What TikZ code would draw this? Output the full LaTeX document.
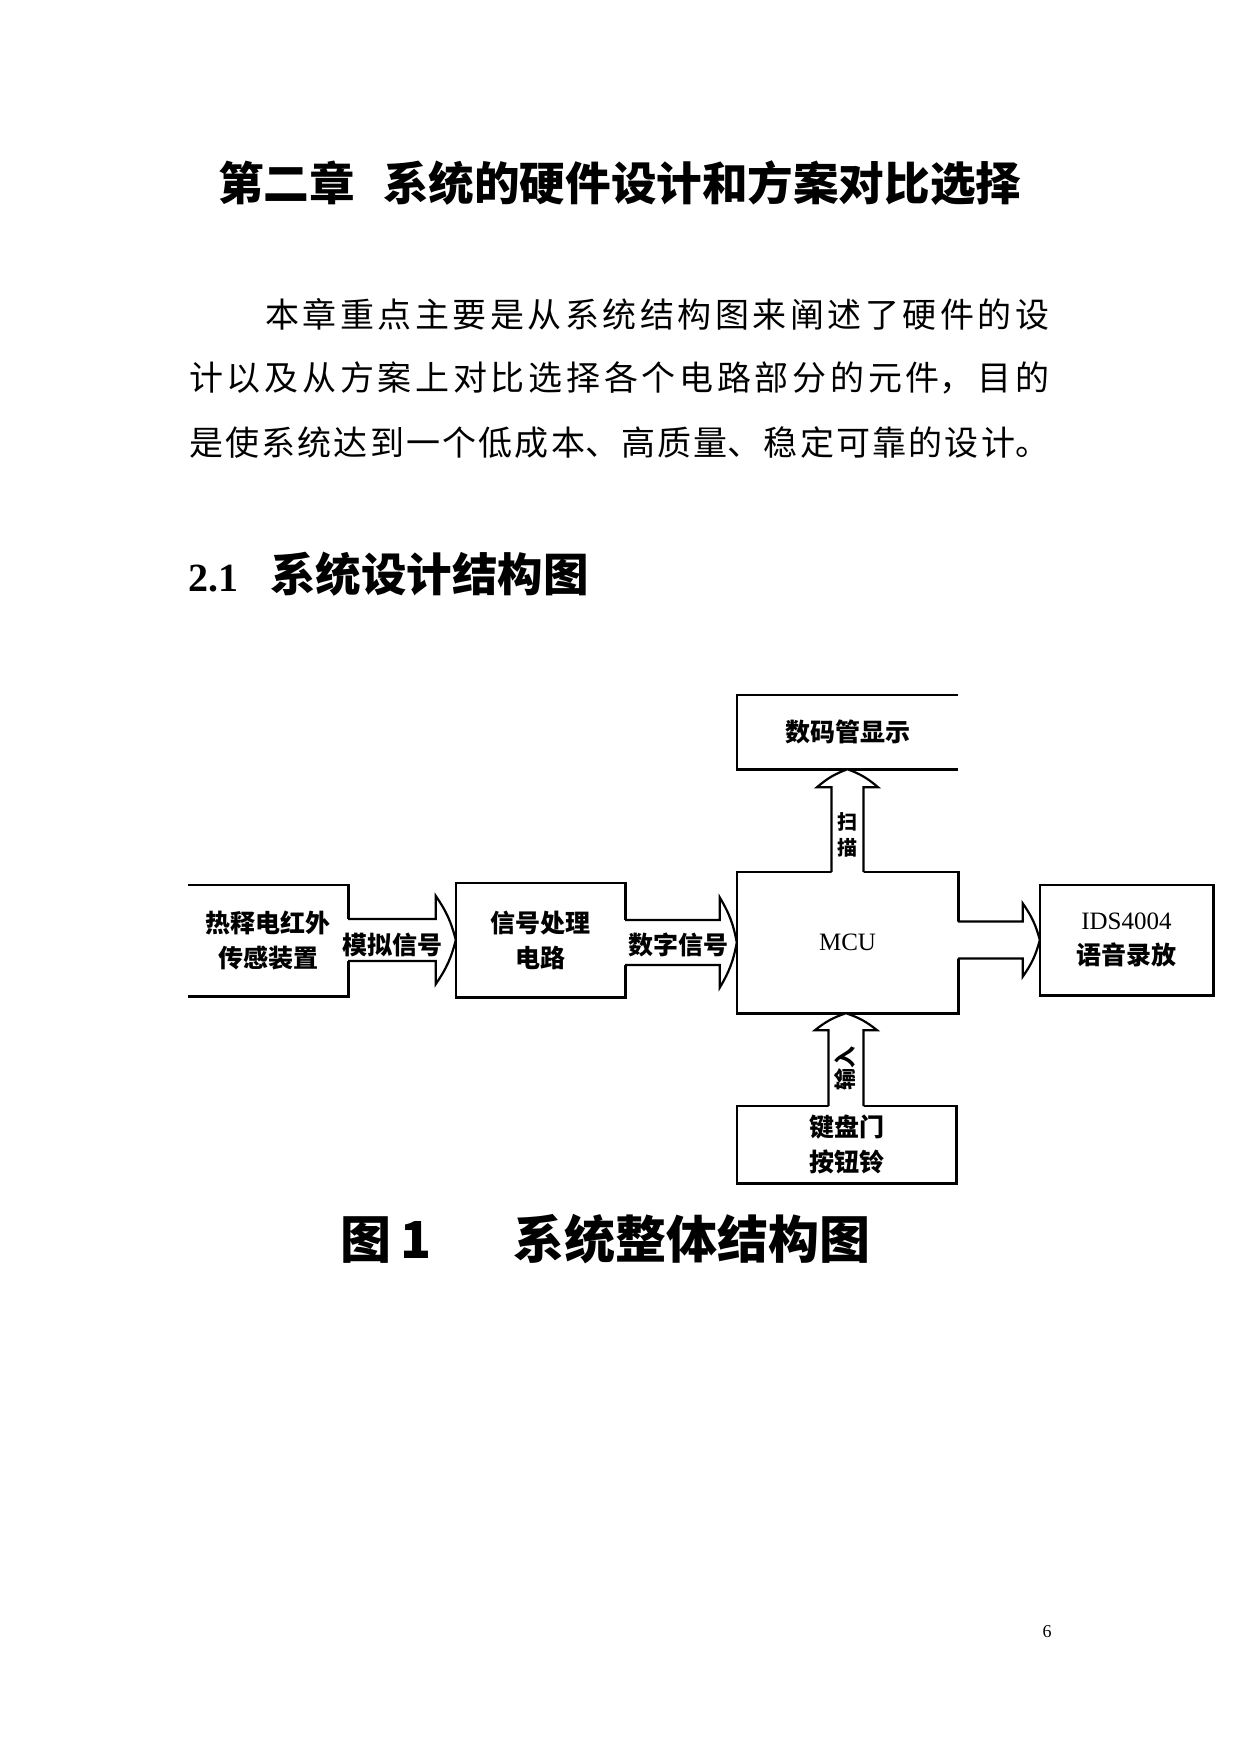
\documentclass[tikz,border=0pt]{standalone}
\usepackage{fontspec}
\setmainfont{Liberation Serif}
\newfontfamily\cjk{Noto Sans CJK SC}
\usetikzlibrary{calc}
\newcommand\dtext{\cjk\bfseries\fontsize{25}{35}\selectfont}
\newcommand\bodyset{\noindent\leftskip=0pt\rightskip=0pt\XeTeXlinebreaklocale "zh"\XeTeXlinebreakskip=0pt plus 30pt\parfillskip=0pt\relax}
\newcommand\harr[5]{%
  \fill[white] let \p1=#1, \p2=#2 in
    ({\x1-3pt},{\y2+#3pt}) -- ({\x2-#5pt},{\y2+#3pt}) -- ({\x2-#5pt},{\y2+#4pt}) -- (\x2,\y2)
    -- ({\x2-#5pt},{\y2-#4pt}) -- ({\x2-#5pt},{\y2-#3pt}) -- ({\x1-3pt},{\y2-#3pt}) -- cycle;
  \draw[arrline] let \p1=#1, \p2=#2 in
    (\x1,{\y2+#3pt}) -- ({\x2-#5pt},{\y2+#3pt}) -- ({\x2-#5pt},{\y2+#4pt}) to[bend left=10] (\x2,\y2)
    to[bend left=10] ({\x2-#5pt},{\y2-#4pt}) -- ({\x2-#5pt},{\y2-#3pt}) -- (\x1,{\y2-#3pt});}
\newcommand\varr[5]{%
  \fill[white] let \p1=#1, \p2=#2 in
    ({\x2-#3pt},{\y1-3pt}) -- ({\x2-#3pt},{\y2-#5pt}) -- ({\x2-#4pt},{\y2-#5pt}) -- (\x2,\y2)
    -- ({\x2+#4pt},{\y2-#5pt}) -- ({\x2+#3pt},{\y2-#5pt}) -- ({\x2+#3pt},{\y1-3pt}) -- cycle;
  \draw[arrline] let \p1=#1, \p2=#2 in
    ({\x2-#3pt},\y1) -- ({\x2-#3pt},{\y2-#5pt}) -- ({\x2-#4pt},{\y2-#5pt}) to[bend left=10] (\x2,\y2)
    to[bend left=10] ({\x2+#4pt},{\y2-#5pt}) -- ({\x2+#3pt},{\y2-#5pt}) -- ({\x2+#3pt},\y1);}
\tikzset{
  box/.style={draw=none, inner sep=0pt, align=center, font=\dtext},
  boxline/.style={line width=2.6pt, line join=miter},
  arrline/.style={line width=2.2pt},
  lbl/.style={inner sep=0pt, align=center, font=\dtext},
  bodyline/.style={anchor=west, inner sep=0pt, align=justify, font=\cjk\fontsize{34}{40}\selectfont}
}
\begin{document}
\begin{tikzpicture}[x=1pt,y=-1pt]
\fill[white] (0,0) rectangle (1241,1754);
\useasboundingbox (0,0) rectangle (1241,1754);

% title and text
\node[anchor=west, inner sep=0pt] (title) at (218,183)
  {\cjk\bfseries\fontsize{45.6}{45.6}\selectfont 第二章\hspace{28pt}系统的硬件设计和方案对比选择};
\node[bodyline, text width=784pt] (p1) at (265,314.5) {\bodyset 本章重点主要是从系统结构图来阐述了硬件的设\par};
\node[bodyline, text width=860pt] (p2) at (189,377.5) {\bodyset 计以及从方案上对比选择各个电路部分的元件，目的\par};
\node[bodyline, text width=860pt] (p3) at (189,442.5) {\bodyset 是使系统达到一个低成本、高质量、稳定可靠的设计。\par};
\node[anchor=west, inner sep=0pt] (h21) at (188,574)
  {\fontsize{40}{40}\selectfont\bfseries 2.1\hspace{32pt}{\cjk\fontsize{45.5}{45.5}\selectfont\bfseries 系统设计结构图}};

% boxes
\node[box, minimum width=160pt, minimum height=111pt] (b1) at (268,940.5) {热释电红外\\传感装置};
\node[box, minimum width=169pt, minimum height=114pt] (b2) at (540.5,940) {信号处理\\电路};
\node[box, minimum width=221pt, minimum height=141pt] (mcu) at (847.5,942.5) {\rmfamily\mdseries MCU};
\node[box, minimum width=221pt, minimum height=74pt] (disp) at (847.5,732) {数码管显示};
\node[box, minimum width=173pt, minimum height=110pt] (ids) at (1126.5,940) {{\rmfamily\mdseries IDS4004}\\语音录放};
\node[box, minimum width=219pt, minimum height=77pt] (kb) at (846.5,1144.5) {键盘门\\按钮铃};

\draw[boxline] (b1.north west) -- (b1.north east) -- (b1.south east) -- (b1.south west);
\draw[boxline] (b2.north west) rectangle (b2.south east);
\draw[boxline] (mcu.north west) rectangle (mcu.south east);
\draw[boxline] (disp.north east) -- (disp.north west) -- (disp.south west) -- (disp.south east);
\draw[boxline] (ids.north west) rectangle (ids.south east);
\draw[boxline] (kb.north west) rectangle (kb.south east);

% arrows
\harr{(b1.east)}{(b2.west)}{21}{44}{20}
\harr{(b2.east)}{(mcu.west)}{22.5}{45}{17}
\harr{(mcu.east)}{(ids.west)}{18.5}{36.5}{17}
\varr{(mcu.north)}{(disp.south)}{16}{30.5}{18}
\coordinate (mcub) at ($(mcu.south)+(-1.5,0)$);
\varr{(kb.north)}{(mcub)}{17.5}{31}{17}

% labels
\node[lbl] (l1) at (392,945) {模拟信号};
\node[lbl] (l2) at (678,945) {数字信号};
\node[lbl, font=\cjk\bfseries\fontsize{20}{26}\selectfont] (l3) at (847,835) {扫\\描};
\node[lbl, rotate=90, font=\cjk\bfseries\fontsize{22}{22}\selectfont] (l4) at (845,1068) {输入};

% caption and page number
\node[anchor=west, inner sep=0pt] (cap) at (340,1239)
  {\cjk\bfseries\fontsize{51}{51}\selectfont 图\hspace{9pt}1\hspace{82pt}系统整体结构图};
\node[inner sep=0pt] (pg) at (1047,1632) {\fontsize{18}{18}\selectfont 6};
\end{tikzpicture}
\end{document}
